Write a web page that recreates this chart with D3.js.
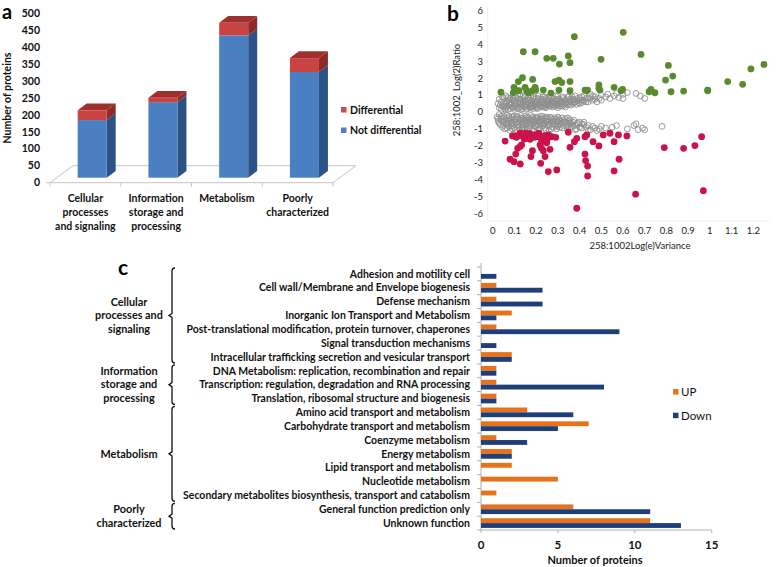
<!DOCTYPE html>
<html><head><meta charset="utf-8">
<script src="https://cdn.jsdelivr.net/npm/d3@7"></script>
<style>
body{margin:0;background:#fff;}
svg{display:block;}
text{font-family:Lato,"Open Sans",sans-serif;}
</style></head>
<body>
<svg id="chart" width="778" height="567"></svg>
<script>
// ---------- Panel a data ----------
const aCategories = [["Cellular","processes","and signaling"],["Information","storage and","processing"],["Metabolism"],["Poorly","characterized"]];
const aNotDifferential = [170, 223, 420, 312];
const aDifferential = [29, 13, 37, 41];
const aTicks = [0,50,100,150,200,250,300,350,400,450,500];
const aSeries = ["Differential","Not differential"];

// ---------- Panel b data ----------
const bTicksX = [0,0.1,0.2,0.3,0.4,0.5,0.6,0.7,0.8,0.9,1,1.1,1.2];
const bTicksY = [-6,-5,-4,-3,-2,-1,0,1,2,3,4,5,6];
const bUp = [[0.038,1.17],[0.098,1.46],[0.118,1.8],[0.137,2.03],[0.141,3.57],[0.103,1.3],[0.121,1.26],[0.149,1.46],[0.156,1.26],[0.183,1.26],[0.184,1.93],[0.195,3.57],[0.195,1.46],[0.198,1.3],[0.233,1.3],[0.249,3.18],[0.279,3.18],[0.287,1.8],[0.305,1.89],[0.305,1.3],[0.307,2.84],[0.318,1.74],[0.348,3.32],[0.356,2.92],[0.356,1.8],[0.356,1.26],[0.376,4.46],[0.425,1.3],[0.433,1.26],[0.437,1.3],[0.489,1.6],[0.489,1.4],[0.494,1.3],[0.499,3.12],[0.559,1.46],[0.591,1.26],[0.598,1.34],[0.601,4.72],[0.683,3.41],[0.72,1.2],[0.729,1.34],[0.747,1.14],[0.796,1.89],[0.809,2.76],[0.821,1.2],[0.829,2.13],[0.879,1.24],[0.99,1.3],[0.99,1.26],[1.082,1.8],[1.151,1.64],[1.189,2.55],[1.249,2.82],[0.165,1.12],[0.268,1.12],[0.095,1.15]];
const bDown = [[0.057,-1.72],[0.091,-1.42],[0.1,-1.42],[0.11,-1.5],[0.126,-1.26],[0.141,-1.36],[0.152,-1.26],[0.164,-1.46],[0.126,-2.05],[0.115,-2.15],[0.106,-2.49],[0.133,-1.95],[0.152,-1.56],[0.172,-1.62],[0.08,-2.8],[0.098,-2.94],[0.127,-3.08],[0.176,-2.64],[0.183,-2.29],[0.192,-1.5],[0.21,-1.46],[0.213,-1.26],[0.218,-1.95],[0.221,-3.04],[0.225,-1.76],[0.225,-2.15],[0.233,-2.29],[0.241,-2.64],[0.249,-1.82],[0.253,-1.56],[0.256,-3.53],[0.264,-2.21],[0.272,-1.46],[0.29,-1.5],[0.295,-3.43],[0.256,-1.36],[0.348,-1.2],[0.356,-2.09],[0.376,-1.76],[0.387,-1.56],[0.387,-5.7],[0.425,-1.46],[0.433,-1.36],[0.425,-2.49],[0.428,-2.88],[0.437,-3.2],[0.437,-3.79],[0.462,-1.76],[0.489,-2.01],[0.509,-1.36],[0.54,-1.26],[0.559,-1.76],[0.559,-3.49],[0.582,-2.8],[0.579,-1.36],[0.618,-1.42],[0.658,-4.87],[0.79,-2.11],[0.879,-2.15],[0.931,-1.99],[0.962,-1.46],[0.97,-4.66],[0.155,-1.35],[0.17,-1.28],[0.185,-1.4],[0.2,-1.35],[0.23,-1.5],[0.24,-1.4],[0.145,-1.6],[0.12,-1.4]];
const bNone = [
[0.03,0.25],[0.035,0.4],[0.04,0.15],[0.04,0.6],[0.05,0.3],[0.05,0.8],[0.055,0.5],[0.06,0.2],[0.06,0.95],[0.065,0.65],
[0.07,0.35],[0.075,0.55],[0.08,0.2],[0.08,0.8],[0.085,0.45],[0.09,0.3],[0.09,0.7],[0.095,1.0],[0.1,0.15],[0.1,0.5],
[0.11,0.35],[0.11,0.85],[0.12,0.25],[0.12,0.6],[0.125,0.45],[0.13,0.75],[0.13,0.15],[0.135,0.4],[0.14,0.55],[0.14,0.95],
[0.15,0.3],[0.15,0.7],[0.155,0.45],[0.16,0.2],[0.16,0.6],[0.165,0.85],[0.17,0.35],[0.17,0.5],[0.175,0.25],[0.18,0.7],
[0.19,0.4],[0.19,0.9],[0.195,0.55],[0.2,0.3],[0.2,0.65],[0.205,0.2],[0.21,0.45],[0.21,0.8],[0.215,0.35],[0.22,0.6],
[0.23,0.3],[0.23,0.75],[0.235,0.5],[0.24,0.4],[0.24,0.9],[0.245,0.25],[0.25,0.6],[0.255,0.45],[0.26,0.35],[0.26,0.7],
[0.27,0.5],[0.27,0.85],[0.275,0.3],[0.28,0.6],[0.285,0.4],[0.29,0.75],[0.295,0.35],[0.3,0.55],[0.3,0.95],[0.3,0.25],
[0.31,0.45],[0.315,0.65],[0.32,0.35],[0.325,0.8],[0.33,0.5],[0.335,0.3],[0.34,0.7],[0.345,0.45],[0.35,0.9],[0.35,0.6],
[0.36,0.4],[0.37,0.75],[0.375,0.55],[0.38,0.95],[0.385,0.45],[0.39,0.65],[0.4,0.85],[0.4,0.5],
[0.41,0.7],[0.42,0.95],[0.43,0.6],[0.44,0.8],[0.45,1.05],[0.46,0.7],[0.47,0.9],[0.48,0.6],[0.49,0.8],[0.5,1.0],[0.5,0.7],
[0.52,0.9],[0.53,1.05],[0.54,0.8],[0.56,0.95],[0.57,1.1],[0.58,0.85],[0.6,0.8],[0.6,1.05],[0.66,1.1],[0.68,0.95],[0.7,0.8],[0.62,1.15],
[0.025,0.5],[0.03,0.75],[0.045,0.35],[0.045,0.9],[0.055,0.15],[0.06,0.45],[0.065,0.3],[0.07,0.85],[0.07,0.15],[0.075,0.7],[0.08,0.4],[0.085,0.6],[0.095,0.25],[0.095,0.8],[0.1,0.35],[0.1,0.65],[0.105,0.9],[0.105,0.45],[0.115,0.2],[0.115,0.55],[0.12,0.75],[0.125,1.0],[0.13,0.3],[0.13,0.55],[0.135,0.2],[0.14,0.8],[0.145,0.35],[0.145,0.65],[0.15,0.5],[0.15,0.9],[0.155,0.15],[0.16,0.4],[0.165,0.7],[0.17,0.25],[0.175,0.55],[0.175,0.95],[0.18,0.35],[0.18,0.5],[0.185,0.8],[0.185,0.2],[0.19,0.6],[0.195,0.3],[0.2,0.45],[0.2,0.8],[0.205,0.6],[0.21,0.25],[0.21,0.95],[0.215,0.5],[0.22,0.4],[0.22,0.75],[0.225,0.3],[0.23,0.55],[0.23,0.9],[0.235,0.65],[0.24,0.3],[0.245,0.8],[0.25,0.4],[0.25,0.5],[0.255,0.7],[0.26,0.9],[0.265,0.55],[0.265,0.4],[0.27,0.65],[0.275,0.45],[0.28,0.35],[0.28,0.8],[0.285,0.55],[0.29,0.95],[0.29,0.5],[0.295,0.65],[0.3,0.4],[0.305,0.75],[0.31,0.6],[0.31,0.35],[0.32,0.5],[0.32,0.9],[0.325,0.6],[0.33,0.4],[0.335,0.75],[0.34,0.55],[0.345,0.9],[0.35,0.45],[0.355,0.75],[0.36,0.6],[0.365,0.9],[0.37,0.5],[0.375,0.7],[0.38,0.6],[0.39,0.8],[0.395,0.55],[0.4,0.7],[0.41,0.55],[0.41,0.9],[0.42,0.65],[0.43,0.8],[0.44,0.6],[0.45,0.85],[0.46,0.95],[0.47,0.75],
[0.02,-0.3],[0.025,-0.55],[0.03,-0.15],[0.035,-0.75],[0.04,-0.4],[0.045,-0.9],[0.05,-0.25],[0.05,-0.6],[0.055,-1.0],[0.06,-0.45],
[0.065,-0.2],[0.07,-0.7],[0.075,-0.35],[0.08,-0.55],[0.08,-1.1],[0.085,-0.85],[0.09,-0.3],[0.09,-0.65],[0.095,-0.45],[0.1,-0.95],
[0.11,-0.25],[0.11,-0.6],[0.115,-0.8],[0.12,-0.4],[0.125,-1.05],[0.13,-0.55],[0.13,-0.2],[0.135,-0.75],[0.14,-0.35],[0.14,-0.9],
[0.15,-0.5],[0.155,-0.65],[0.16,-0.3],[0.16,-1.0],[0.165,-0.45],[0.17,-0.8],[0.175,-0.2],[0.18,-0.6],[0.18,-0.4],[0.18,-1.1],
[0.19,-0.55],[0.195,-0.85],[0.2,-0.3],[0.2,-0.7],[0.205,-0.45],[0.21,-1.0],[0.215,-0.6],[0.22,-0.25],[0.22,-0.8],[0.22,-0.5],
[0.23,-0.4],[0.235,-0.7],[0.24,-0.95],[0.245,-0.55],[0.25,-0.3],[0.25,-0.8],[0.255,-0.6],[0.26,-1.1],[0.26,-0.45],[0.265,-0.7],
[0.27,-0.35],[0.275,-0.9],[0.28,-0.55],[0.285,-0.75],[0.29,-0.45],[0.295,-1.0],[0.3,-0.6],[0.3,-0.3],[0.3,-0.85],
[0.31,-0.5],[0.315,-0.7],[0.32,-0.95],[0.33,-0.6],[0.335,-0.4],[0.34,-0.8],[0.345,-1.05],[0.35,-0.55],[0.355,-0.7],[0.36,-0.9],
[0.37,-0.6],[0.38,-0.8],[0.385,-1.0],[0.39,-0.65],[0.4,-0.9],[0.41,-0.7],[0.42,-0.75],[0.43,-0.9],[0.44,-1.1],[0.45,-1.05],[0.44,-0.8],
[0.47,-0.95],[0.5,-0.85],[0.52,-0.95],[0.55,-0.9],[0.57,-0.8],[0.62,-1.0],[0.65,-0.8],[0.66,-0.7],[0.67,-1.05],[0.69,-0.95],[0.7,-1.05],[0.78,-0.85],[0.48,-1.1],
[0.025,-0.4],[0.03,-0.65],[0.04,-0.25],[0.045,-0.55],[0.05,-0.8],[0.055,-0.35],[0.06,-0.7],[0.065,-0.95],[0.07,-0.5],[0.075,-0.25],[0.075,-0.85],[0.085,-0.4],[0.085,-0.65],[0.09,-1.0],[0.095,-0.25],[0.1,-0.55],[0.1,-0.75],[0.105,-0.4],[0.11,-1.05],[0.115,-0.3],[0.12,-0.65],[0.12,-0.9],[0.125,-0.5],[0.13,-0.35],[0.135,-0.95],[0.14,-0.6],[0.145,-0.45],[0.145,-0.75],[0.15,-0.25],[0.15,-1.05],[0.155,-0.85],[0.16,-0.55],[0.165,-0.35],[0.17,-0.65],[0.17,-0.95],[0.175,-0.5],[0.185,-0.3],[0.185,-0.75],[0.19,-0.45],[0.19,-1.0],[0.195,-0.6],[0.2,-0.85],[0.205,-0.35],[0.21,-0.55],[0.21,-0.75],[0.215,-0.95],[0.22,-0.4],[0.225,-0.65],[0.23,-0.25],[0.23,-0.85],[0.235,-0.5],[0.24,-0.35],[0.24,-0.7],[0.245,-1.05],[0.25,-0.55],[0.255,-0.4],[0.26,-0.8],[0.265,-0.3],[0.27,-0.6],[0.27,-1.0],[0.275,-0.45],[0.28,-0.7],[0.285,-0.35],[0.29,-0.85],[0.295,-0.55],[0.3,-0.75],[0.305,-0.4],[0.31,-0.9],[0.315,-0.55],[0.32,-0.35],[0.325,-0.8],[0.33,-0.5],[0.34,-0.65],[0.345,-0.35],[0.35,-0.85],[0.355,-0.45],[0.36,-0.65],[0.37,-0.8],[0.375,-0.5],[0.38,-1.05],[0.39,-0.75],[0.4,-0.6],[0.41,-0.95],[0.42,-0.6],[0.46,-0.85],[0.49,-1.0]
];

// ---------- Panel c data ----------
const cCategories = ["Adhesion and motility cell","Cell wall/Membrane and Envelope biogenesis","Defense mechanism","Inorganic Ion Transport and Metabolism","Post-translational modification, protein turnover, chaperones","Signal transduction mechanisms","Intracellular trafficking secretion and vesicular transport","DNA Metabolism: replication, recombination and repair","Transcription: regulation, degradation and RNA processing","Translation, ribosomal structure and biogenesis","Amino acid transport and metabolism","Carbohydrate transport and metabolism","Coenzyme metabolism","Energy metabolism","Lipid transport and metabolism","Nucleotide metabolism","Secondary metabolites biosynthesis, transport and catabolism","General function prediction only","Unknown function"];
const cUp   = [0,1,1,2,1,0,2,1,1,1,3,7,1,2,2,5,1,6,11];
const cDown = [1,4,4,1,9,1,2,1,8,1,6,5,3,2,0,0,0,11,13];
const cSeries = ["UP","Down"];
const cTicks = [0,5,10,15];
const cGroups = [
  {lines:["Cellular","processes and","signaling"], from:0, to:6},
  {lines:["Information","storage and","processing"], from:7, to:9},
  {lines:["Metabolism"], from:10, to:16},
  {lines:["Poorly","characterized"], from:17, to:18}
];

const svg = d3.select("#chart");

// ================= Panel a =================
{
  const g = svg.append("g");
  const y = d3.scaleLinear().domain([0,500]).range([182.7,13.3]);
  const x = d3.scaleBand().domain(d3.range(aCategories.length)).range([50,333]).paddingInner(0.59).paddingOuter(0.295);
  const xEdge = d3.scaleBand().domain(d3.range(aCategories.length)).range([50,333]);
  const fdx = 23, fdy = -17;
  const bdx = 6.8, bdy = -5;
  const sdx = 9, sdy = -6.8;
  const y0 = y(0);
  g.append("path").attr("d",`M50,${y0}L333,${y0}L${333+fdx},${y0+fdy}L${50+fdx},${y0+fdy}Z`)
    .attr("fill","none").attr("stroke","#c4c4c4").attr("stroke-width",1);
  [0,1,2,3,4].forEach(i=>{
    const xx = i<4 ? xEdge(i) : 333;
    g.append("line").attr("x1",xx).attr("x2",xx).attr("y1",y0).attr("y2",y0+4).attr("stroke","#c4c4c4");
  });
  g.append("line").attr("x1",46).attr("x2",50).attr("y1",y0).attr("y2",y0).attr("stroke","#c4c4c4");
  g.selectAll(".yt").data(aTicks).join("text")
    .attr("x",40).attr("y",d=>y(d)).attr("dy","0.35em").attr("text-anchor","end")
    .attr("font-size",10.5).attr("font-weight","bold").attr("fill","#111").text(d=>d);
  g.append("text").attr("transform","translate(11,98) rotate(-90)").attr("text-anchor","middle")
    .attr("font-size",10.5).attr("font-weight","bold").attr("fill","#111").text("Number of proteins");
  function box(x0, w, yTop, yBot, front, side, top){
    g.append("path").attr("d",`M${x0+w},${yBot}L${x0+w+sdx},${yBot+sdy}L${x0+w+sdx},${yTop+sdy}L${x0+w},${yTop}Z`).attr("fill",side);
    if(top) g.append("path").attr("d",`M${x0},${yTop}L${x0+sdx},${yTop+sdy}L${x0+w+sdx},${yTop+sdy}L${x0+w},${yTop}Z`).attr("fill",top);
    g.append("rect").attr("x",x0).attr("y",yTop).attr("width",w).attr("height",yBot-yTop).attr("fill",front);
  }
  aCategories.forEach((c,i)=>{
    const x0 = x(i)+bdx, w = x.bandwidth();
    const nd = aNotDifferential[i], df = aDifferential[i];
    box(x0,w,y(nd)+bdy,y(0)+bdy,"#4a7fc1","#2c5186",null);
    box(x0,w,y(nd+df)+bdy,y(nd)+bdy,"#c84341","#8e2a28","#a0302d");
  });
  aCategories.forEach((lines,i)=>{
    const cx = xEdge(i)+xEdge.bandwidth()/2;
    lines.forEach((t,k)=>{
      g.append("text").attr("x",cx).attr("y",202+k*13.8).attr("text-anchor","middle")
        .attr("font-size",10.5).attr("font-weight","bold").attr("fill","#111").text(t);
    });
  });
  const legCol = {"Differential":"#c0504d","Not differential":"#4f81bd"};
  aSeries.forEach((s,k)=>{
    g.append("rect").attr("x",341).attr("y",107+k*20.5).attr("width",5.5).attr("height",5.5).attr("fill",legCol[s]);
    g.append("text").attr("x",350).attr("y",110+k*20.5).attr("dy","0.35em").attr("font-size",10.5).attr("font-weight","bold").attr("fill","#111").text(s);
  });
  g.append("text").attr("x",2).attr("y",19).attr("font-family","Liberation Sans, Arial, sans-serif").attr("font-size",20).attr("font-weight","bold").text("a");
}

// ================= Panel b =================
{
  const g = svg.append("g");
  const x = d3.scaleLinear().domain([0,1.2]).range([492.7,753.3]);
  const y = d3.scaleLinear().domain([-6,6]).range([213.3,10.7]);
  const F = "DejaVu Sans, Verdana, sans-serif";
  g.append("line").attr("x1",487.7).attr("x2",487.7).attr("y1",5).attr("y2",221).attr("stroke","#eeeeee");
  g.append("line").attr("x1",487.7).attr("x2",770).attr("y1",221).attr("y2",221).attr("stroke","#eeeeee");
  g.selectAll(".bx").data(bTicksX).join("text").attr("x",d=>x(d)).attr("y",233.5).attr("text-anchor","middle")
    .attr("font-family",F).attr("font-size",9.5).attr("fill","#222").text(d=>d3.format("")(d));
  g.selectAll(".by").data(bTicksY).join("text").attr("x",483).attr("y",d=>y(d)).attr("dy","0.35em").attr("text-anchor","end")
    .attr("font-family",F).attr("font-size",9.5).attr("fill","#222").text(d=>d);
  g.append("text").attr("x",640).attr("y",249).attr("text-anchor","middle").attr("font-family",F).attr("font-size",9.5).attr("fill","#222").text("258:1002Log(e)Variance");
  g.append("text").attr("transform","translate(460,90) rotate(-90)").attr("text-anchor","middle").attr("font-family",F).attr("font-size",9.5).attr("fill","#222").text("258:1002_Log(2)Ratio");
  g.selectAll(".gn").data(bNone).join("circle").attr("cx",d=>x(d[0])).attr("cy",d=>y(d[1])).attr("r",2.9)
    .attr("fill","none").attr("stroke","#8f8f8f").attr("stroke-width",0.9);
  g.selectAll(".gu").data(bUp).join("circle").attr("cx",d=>x(d[0])).attr("cy",d=>y(d[1])).attr("r",3.4).attr("fill","#5a8a2f");
  g.selectAll(".gd").data(bDown).join("circle").attr("cx",d=>x(d[0])).attr("cy",d=>y(d[1])).attr("r",3.4).attr("fill","#cc1349");
  g.append("text").attr("x",447).attr("y",21).attr("font-family","Liberation Sans, Arial, sans-serif").attr("font-size",21).attr("font-weight","bold").text("b");
}

// ================= Panel c =================
{
  const g = svg.append("g");
  const x = d3.scaleLinear().domain([0,15]).range([481,711.7]);
  const y = d3.scaleBand().domain(d3.range(cCategories.length)).range([267,530]).paddingInner(0.3).paddingOuter(0.15);
  const yEdge = d3.scaleBand().domain(d3.range(cCategories.length)).range([267,530]);
  const sub = d3.scaleBand().domain(cSeries).range([0,y.bandwidth()]);
  const col = {"UP":"#e8711c","Down":"#1f3f7a"};
  g.append("line").attr("x1",x(0)).attr("x2",x(0)).attr("y1",263).attr("y2",530).attr("stroke","#b0b0b0");
  g.append("line").attr("x1",x(0)).attr("x2",x(15)).attr("y1",530).attr("y2",530).attr("stroke","#b0b0b0");
  d3.range(cCategories.length+1).forEach(i=>{
    const yy = i<cCategories.length ? yEdge(i) : 530;
    g.append("line").attr("x1",x(0)-4).attr("x2",x(0)).attr("y1",yy).attr("y2",yy).attr("stroke","#b0b0b0");
  });
  cTicks.forEach(t=>{
    g.append("line").attr("x1",x(t)).attr("x2",x(t)).attr("y1",530).attr("y2",533).attr("stroke","#b0b0b0");
    g.append("text").attr("x",x(t)).attr("y",549).attr("text-anchor","middle").attr("font-size",11.5).attr("font-weight","bold").attr("fill","#111").text(t);
  });
  g.append("text").attr("x",595).attr("y",564).attr("text-anchor","middle").attr("font-size",11).attr("font-weight","bold").attr("fill","#111").text("Number of proteins");
  cCategories.forEach((c,i)=>{
    [["UP",cUp[i]],["Down",cDown[i]]].forEach(([s,v])=>{
      if(v<=0) return;
      g.append("rect").attr("x",x(0)).attr("y",y(i)+sub(s)).attr("width",x(v)-x(0)).attr("height",sub.bandwidth())
        .attr("fill",col[s]);
    });
  });
  // category labels: larger font, compressed horizontally to the reference width
  const fs = 10.6;
  const lg = g.append("g");
  const labels = lg.selectAll(".cl").data(cCategories).join("text")
    .attr("x",0).attr("y",(d,i)=>yEdge(i)+yEdge.bandwidth()/2).attr("dy","0.35em").attr("text-anchor","end")
    .attr("font-size",fs).attr("font-weight","bold").attr("fill","#111").text(d=>d);
  let maxW = 0; labels.each(function(){maxW=Math.max(maxW,this.getComputedTextLength());});
  const k = 287/maxW;
  lg.attr("transform",`translate(470,0) scale(${k},1)`);
  cGroups.forEach(gr=>{
    const top = yEdge(gr.from)+1, bot = yEdge(gr.to)+yEdge.bandwidth()-1, mid=(top+bot)/2;
    const bx = 172;
    g.append("path").attr("d",`M${bx+3},${top}Q${bx},${top} ${bx},${top+3}L${bx},${mid-2}L${bx-3},${mid}L${bx},${mid+2}L${bx},${bot-3}Q${bx},${bot} ${bx+3},${bot}`)
      .attr("fill","none").attr("stroke","#111").attr("stroke-width",1.3);
    const n = gr.lines.length;
    const tg = g.append("g").attr("transform",`translate(129,0) scale(${k},1)`);
    gr.lines.forEach((t,j)=>{
      tg.append("text").attr("x",0).attr("y",mid+(j-(n-1)/2)*13.3).attr("dy","0.35em").attr("text-anchor","middle")
        .attr("font-size",fs+0.4).attr("font-weight","bold").attr("fill","#111").text(t);
    });
  });
  cSeries.forEach((s,j)=>{
    g.append("rect").attr("x",673).attr("y",389+j*23.7).attr("width",5.5).attr("height",5.5).attr("fill",col[s]);
    g.append("text").attr("x",681).attr("y",392+j*23.7).attr("dy","0.35em").attr("font-size",11.5).attr("fill","#111").text(s);
  });
  g.append("text").attr("x",118).attr("y",275).attr("font-family","Liberation Sans, Arial, sans-serif").attr("font-size",21).attr("font-weight","bold").text("c");
}
</script>
</body></html>
